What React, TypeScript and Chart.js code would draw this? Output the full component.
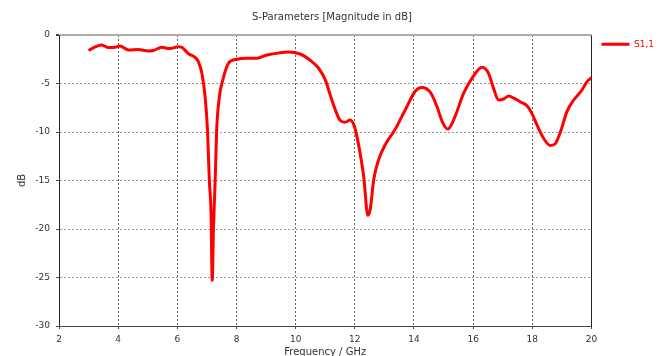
import { useEffect, useRef } from "react";
import { Chart, registerables } from "chart.js";

Chart.register(...registerables);

const chartTitle = "S-Parameters [Magnitude in dB]";
const seriesName = "S1,1";
const xAxisTitle = "Frequency / GHz";
const yAxisTitle = "dB";

const xMin = 2;
const xMax = 20;
const xStep = 2;
const yMin = -30;
const yMax = 0;
const yStep = 5;

const freqGHz = [
  3.0, 3.13, 3.44, 3.67, 3.9, 4.06, 4.35, 4.68, 5.02, 5.19, 5.47, 5.75, 6.03, 6.15,
  6.37, 6.6, 6.71, 6.83, 6.94, 7.02, 7.08, 7.14, 7.18, 7.22, 7.28, 7.33, 7.42, 7.54,
  7.73, 8.01, 8.35, 8.69, 9.03, 9.48, 9.75, 10.15, 10.49, 10.77, 11.0, 11.17, 11.34,
  11.5, 11.67, 11.84, 11.99, 12.12, 12.3, 12.44, 12.52, 12.64, 12.8, 13.03, 13.37,
  13.54, 13.76, 14.04, 14.27, 14.55, 14.78, 14.95, 15.14, 15.34, 15.68, 15.96, 16.3,
  16.52, 16.69, 16.86, 17.03, 17.2, 17.37, 17.6, 17.82, 17.99, 18.16, 18.38, 18.61,
  18.78, 18.95, 19.17, 19.4, 19.68, 19.85, 20.0,
];

const s11dB = [
  -1.6, -1.37, -1.03, -1.3, -1.27, -1.13, -1.55, -1.5, -1.65, -1.6, -1.27, -1.4, -1.2, -1.27,
  -1.9, -2.3, -2.75, -3.95, -6.4, -9.8, -14.9, -18.4, -25.3, -20.1, -14.9, -9.8, -6.4, -4.6,
  -2.9, -2.5, -2.4, -2.4, -2.06, -1.82, -1.75, -1.96, -2.6, -3.4, -4.6, -6.2, -7.7,
  -8.8, -9.0, -8.76, -9.45, -11.2, -14.6, -18.6, -18.0, -14.9, -12.9, -11.3, -9.7,
  -8.7, -7.4, -5.8, -5.4, -5.9, -7.4, -8.9, -9.7, -8.76, -6.0, -4.47, -3.33,
  -3.95, -5.5, -6.7, -6.6, -6.3, -6.5, -6.9, -7.3, -8.1, -9.3, -10.65, -11.4,
  -11.2, -10.0, -7.9, -6.7, -5.67, -4.8, -4.4,
];

const FONT = "DejaVu Sans";

export default function App() {
  const ref = useRef<HTMLCanvasElement>(null);

  useEffect(() => {
    document.body.style.margin = "0";
    const canvas = ref.current;
    if (!canvas) return;
    const font = { family: FONT, size: 9, weight: "normal" as const };
    const bigFont = { family: FONT, size: 10, weight: "normal" as const };

    const chart = new Chart(canvas, {
      type: "line",
      data: {
        datasets: [
          {
            label: seriesName,
            data: freqGHz.map((f, i) => ({ x: f, y: s11dB[i] })),
            borderColor: "#ff0000",
            backgroundColor: "#ff0000",
            borderWidth: 3,
            pointRadius: 0,
            cubicInterpolationMode: "monotone",
            fill: false,
          },
        ],
      },
      options: {
        responsive: false,
        animation: false,
        maintainAspectRatio: false,
        layout: { padding: { left: 0, right: 1, top: 0, bottom: 0 } },
        plugins: {
          title: {
            display: true,
            text: chartTitle,
            color: "#333",
            font: bigFont,
            padding: { top: 11, bottom: 12 },
          },
          legend: {
            position: "right",
            align: "start",
            title: {
              display: true,
              text: " ",
              font,
              padding: { top: 19, bottom: 0 },
            },
            labels: {
              boxWidth: 28,
              boxHeight: 3,
              padding: 10,
              color: "#ff0000",
              font,
              generateLabels: (c: any) =>
                Chart.defaults.plugins.legend.labels
                  .generateLabels(c)
                  .map((l: any) => ({ ...l, lineWidth: 0, fontColor: "#ff0000" })),
            },
          },
          tooltip: { enabled: false },
        },
        scales: {
          x: {
            type: "linear",
            min: xMin,
            max: xMax,
            ticks: { stepSize: xStep, color: "#333", font, padding: 5, maxRotation: 0 },
            grid: {
              color: (ctx: any) =>
                ctx.index === 0 ? "rgba(0,0,0,0)" : ctx.tick && ctx.tick.value === xMax ? "#222" : "#666",
              lineWidth: 1,
              tickLength: 3,
              tickColor: "#444",
            },
            border: {
              color: "#444",
              width: 1,
              dash: (ctx: any) =>
                ctx.tick && ctx.tick.value !== xMax && ctx.tick.value !== xMin ? [2, 2] : [],
            },
            title: {
              display: true,
              text: xAxisTitle,
              color: "#333",
              font: bigFont,
              padding: { top: 0, bottom: -2 },
            },
            afterFit: (s: any) => {
              s.height = 30;
            },
          },
          y: {
            type: "linear",
            min: yMin,
            max: yMax,
            ticks: { stepSize: yStep, color: "#333", font, padding: 6 },
            grid: {
              color: (ctx: any) =>
                ctx.index === 0 ? "rgba(0,0,0,0)" : ctx.tick && ctx.tick.value === yMax ? "#aaa" : "#999",
              lineWidth: (ctx: any) => (ctx.tick && ctx.tick.value === yMax ? 2 : 1),
              tickLength: 3,
              tickColor: "#444",
            },
            border: {
              color: "#222",
              width: 1,
              dash: (ctx: any) =>
                ctx.tick && ctx.tick.value !== yMax && ctx.tick.value !== yMin ? [2, 2] : [],
            },
            title: {
              display: true,
              text: yAxisTitle,
              color: "#333",
              font: bigFont,
              padding: { top: 16, bottom: 0 },
            },
            afterFit: (s: any) => {
              s.width = 59;
            },
          },
        },
      },
    });
    return () => chart.destroy();
  }, []);

  return (
    <div style={{ position: "fixed", left: 0, top: 0, width: 665, height: 356 }}>
      <canvas ref={ref} width={665} height={356} style={{ display: "block", width: 665, height: 356 }} />
    </div>
  );
}
